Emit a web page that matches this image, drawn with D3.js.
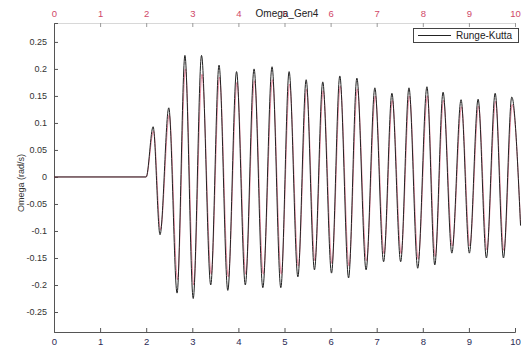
<!DOCTYPE html>
<html><head><meta charset="utf-8">
<script src="https://cdn.jsdelivr.net/npm/d3@7"></script>
<style>body{margin:0;background:#fff}svg{display:block}text{font-family:"Liberation Sans",Arial,sans-serif}</style>
</head><body><svg id="c" width="531" height="352"></svg>
<script>
const title = "Omega_Gen4";
const yLabel = "Omega  (rad/s)";
const legendLabel = "Runge-Kutta";
const xTicks = [0,1,2,3,4,5,6,7,8,9,10];
const yTicks = [-0.25,-0.2,-0.15,-0.1,-0.05,0,0.05,0.1,0.15,0.2,0.25];
// Runge-Kutta (black) turning points: time (s)
const rkTime = [0,2,2.15,2.30,2.49,2.67,2.84,3.02,3.20,3.40,3.58,3.77,3.96,4.15,4.34,4.53,4.73,4.92,5.10,5.29,5.47,5.65,5.83,6.02,6.20,6.39,6.57,6.77,6.96,7.15,7.33,7.52,7.70,7.89,8.09,8.26,8.44,8.63,8.83,9.01,9.20,9.38,9.57,9.75,9.93,10.12];
const rkOmega = [0,0,0.093,-0.107,0.128,-0.215,0.225,-0.225,0.225,-0.2,0.207,-0.21,0.195,-0.2,0.2,-0.205,0.204,-0.205,0.195,-0.185,0.18,-0.172,0.176,-0.178,0.187,-0.187,0.183,-0.172,0.165,-0.157,0.155,-0.157,0.165,-0.169,0.167,-0.163,0.157,-0.141,0.143,-0.141,0.144,-0.15,0.155,-0.15,0.148,-0.09];
// second (red) trace turning points
const refTime = [0,2,2.16,2.31,2.50,2.68,2.85,3.03,3.21,3.41,3.59,3.78,3.97,4.16,4.35,4.54,4.74,4.93,5.11,5.30,5.48,5.66,5.84,6.03,6.21,6.40,6.58,6.78,6.97,7.16,7.34,7.53,7.71,7.90,8.10,8.27,8.45,8.64,8.84,9.02,9.21,9.39,9.58,9.76,9.94,10.12];
const refOmega = [0,0,0.085,-0.098,0.115,-0.19,0.2,-0.2,0.19,-0.18,0.185,-0.185,0.175,-0.18,0.178,-0.18,0.18,-0.18,0.172,-0.165,0.162,-0.155,0.16,-0.16,0.168,-0.165,0.163,-0.155,0.15,-0.142,0.142,-0.142,0.15,-0.152,0.15,-0.147,0.142,-0.128,0.13,-0.128,0.131,-0.135,0.14,-0.136,0.134,-0.085];

const svg = d3.select("#c");
const x = d3.scaleLinear().domain([0,10]).range([54,515]);
const y = d3.scaleLinear().domain([-0.287,0.285]).range([332,23]);

// top axis (faint)
const topAx = svg.append("g").attr("transform","translate(0,23)")
  .call(d3.axisTop(x).tickValues(xTicks).tickSize(-4).tickPadding(6).tickFormat(d3.format("d")));
topAx.select(".domain").attr("stroke","#d8d8d8");
topAx.selectAll(".tick line").attr("stroke","#999");
topAx.selectAll("text").attr("fill","#d04868").attr("font-size",9.5).attr("font-family","Liberation Sans, Arial");

// bottom axis
const botAx = svg.append("g").attr("transform","translate(0,332)")
  .call(d3.axisBottom(x).tickValues(xTicks).tickSize(-4).tickPadding(6).tickFormat(d3.format("d")));
botAx.select(".domain").attr("stroke","#555");
botAx.selectAll(".tick line").attr("stroke","#555");
botAx.selectAll("text").attr("fill","#2b2b55").attr("font-size",9.5).attr("font-family","Liberation Sans, Arial");

// left axis
const fmt = d => d === 0 ? "0" : String(+d.toFixed(2));
const leftAx = svg.append("g").attr("transform","translate(54,0)")
  .call(d3.axisLeft(y).tickValues(yTicks).tickSize(-4).tickPadding(7).tickFormat(fmt));
leftAx.select(".domain").attr("stroke","#555");
leftAx.selectAll(".tick line").attr("stroke","#555");
leftAx.selectAll("text").attr("fill","#333").attr("font-size",9).attr("font-family","Liberation Sans, Arial");

// lines
const rk = rkTime.map((t,i)=>[t,rkOmega[i]]);
const ref = refTime.map((t,i)=>[t,refOmega[i]]);
const line = d3.line().x(d=>x(d[0])).y(d=>y(d[1])).curve(d3.curveMonotoneX);
svg.append("path").datum(ref).attr("d",line).attr("fill","none").attr("stroke","#e06a86").attr("stroke-width",1).attr("opacity",0.8);
svg.append("path").datum(rk).attr("d",line).attr("fill","none").attr("stroke","#222").attr("stroke-width",1);

// title
svg.append("text").attr("x",287).attr("y",17).attr("text-anchor","middle").attr("font-size",10).attr("fill","#222").text(title);
// y label
svg.append("text").attr("transform","translate(24,183) rotate(-90)").attr("text-anchor","middle").attr("font-size",9).attr("fill","#333").text(yLabel);

// legend
const lg = svg.append("g");
lg.append("rect").attr("x",413.5).attr("y",28.5).attr("width",105).attr("height",14).attr("fill","#fff").attr("stroke","#444").attr("stroke-width",1);
lg.append("line").attr("x1",418).attr("x2",451).attr("y1",35.5).attr("y2",35.5).attr("stroke","#222");
lg.append("text").attr("x",456).attr("y",39).attr("font-size",10).attr("fill","#222").text(legendLabel);
</script></body></html>
